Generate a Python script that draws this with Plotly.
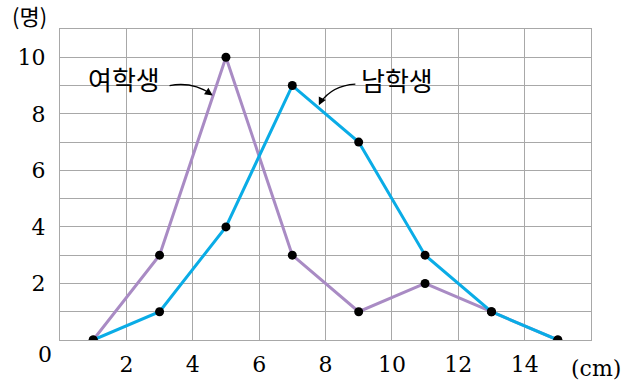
import plotly.graph_objects as go

x_girls = [1, 3, 5, 7, 9, 11, 13, 15]
y_girls = [0, 3, 10, 3, 1, 2, 1, 0]
x_boys = [1, 3, 5, 7, 9, 11, 13, 15]
y_boys = [0, 1, 4, 9, 7, 3, 1, 0]
x_ticks = [2, 4, 6, 8, 10, 12, 14]
y_ticks = list(range(0, 12))
y_ticktext = ["", "", "2", "", "4", "", "6", "", "8", "", "10", ""]

NUM_FONT = dict(family="DejaVu Serif", size=22, color="black")
KR_FONT = dict(family="Noto Sans CJK KR", size=26, color="black")

fig = go.Figure()
fig.add_trace(go.Scatter(x=x_girls, y=y_girls, mode="lines", line=dict(color="#a98bc4", width=3),
                         hoverinfo="skip", showlegend=False))
fig.add_trace(go.Scatter(x=x_boys, y=y_boys, mode="lines", line=dict(color="#0aace6", width=3),
                         hoverinfo="skip", showlegend=False))
fig.add_trace(go.Scatter(x=x_girls + x_boys, y=y_girls + y_boys, mode="markers",
                         marker=dict(color="black", size=9), hoverinfo="skip", showlegend=False))

grid = "#a8a8a8"
fig.update_xaxes(range=[0, 16], tickvals=x_ticks, ticktext=[str(v) for v in x_ticks],
                 showgrid=True, gridcolor=grid, gridwidth=1.3,
                 showline=True, linecolor=grid, linewidth=1.3, mirror=True, automargin=False,
                 zeroline=False, tickfont=NUM_FONT, ticks="", ticklabelstandoff=4)
fig.update_yaxes(range=[0, 11], tickvals=y_ticks, ticktext=y_ticktext,
                 showgrid=True, gridcolor=grid, gridwidth=1.3, automargin=False,
                 showline=True, linecolor=grid, linewidth=1.3, mirror=True,
                 zeroline=False, tickfont=NUM_FONT, ticks="", ticklabelstandoff=9)

# curved leader lines
fig.add_shape(type="path", path="M 3.3,9.0 Q 4.0,9.15 4.55,8.7", xref="x", yref="y",
              line=dict(color="black", width=1.3))
fig.add_shape(type="path", path="M 8.9,9.05 Q 8.2,9.0 7.85,8.4", xref="x", yref="y",
              line=dict(color="black", width=1.3))

annotations = [
    dict(x=1.93, y=9.25, text="여학생", showarrow=False, font=KR_FONT, xref="x", yref="y"),
    dict(x=10.15, y=9.2, text="남학생", showarrow=False, font=KR_FONT, xref="x", yref="y"),
    dict(x=4.6, y=8.65, ax=4.5, ay=8.73, axref="x", ayref="y", xref="x", yref="y",
         text="", showarrow=True, arrowhead=2, arrowsize=1.2, arrowwidth=1.3, arrowcolor="black"),
    dict(x=7.8, y=8.3, ax=7.85, ay=8.42, axref="x", ayref="y", xref="x", yref="y",
         text="", showarrow=True, arrowhead=2, arrowsize=1.2, arrowwidth=1.3, arrowcolor="black"),
    dict(x=0, y=0, xref="paper", yref="paper", text="0", showarrow=False, font=NUM_FONT,
         xanchor="right", yanchor="top", xshift=-6, yshift=0),
    dict(x=0, y=1, xref="paper", yref="paper", text="(명)", showarrow=False,
         font=dict(family="Noto Sans CJK KR", size=22, color="black"),
         xanchor="right", yanchor="bottom", xshift=-11, yshift=-4),
    dict(x=1, y=0, xref="paper", yref="paper", text="(cm)", showarrow=False, font=NUM_FONT,
         xanchor="right", yanchor="top", xshift=32, yshift=-14),
]
fig.update_layout(width=625, height=387, margin=dict(l=60, r=34, t=29, b=47, autoexpand=False),
                  plot_bgcolor="white", paper_bgcolor="white", annotations=annotations,
                  showlegend=False)
fig.write_html("out.html", config={"displayModeBar": False},
               post_script="document.body.style.margin='0';")
